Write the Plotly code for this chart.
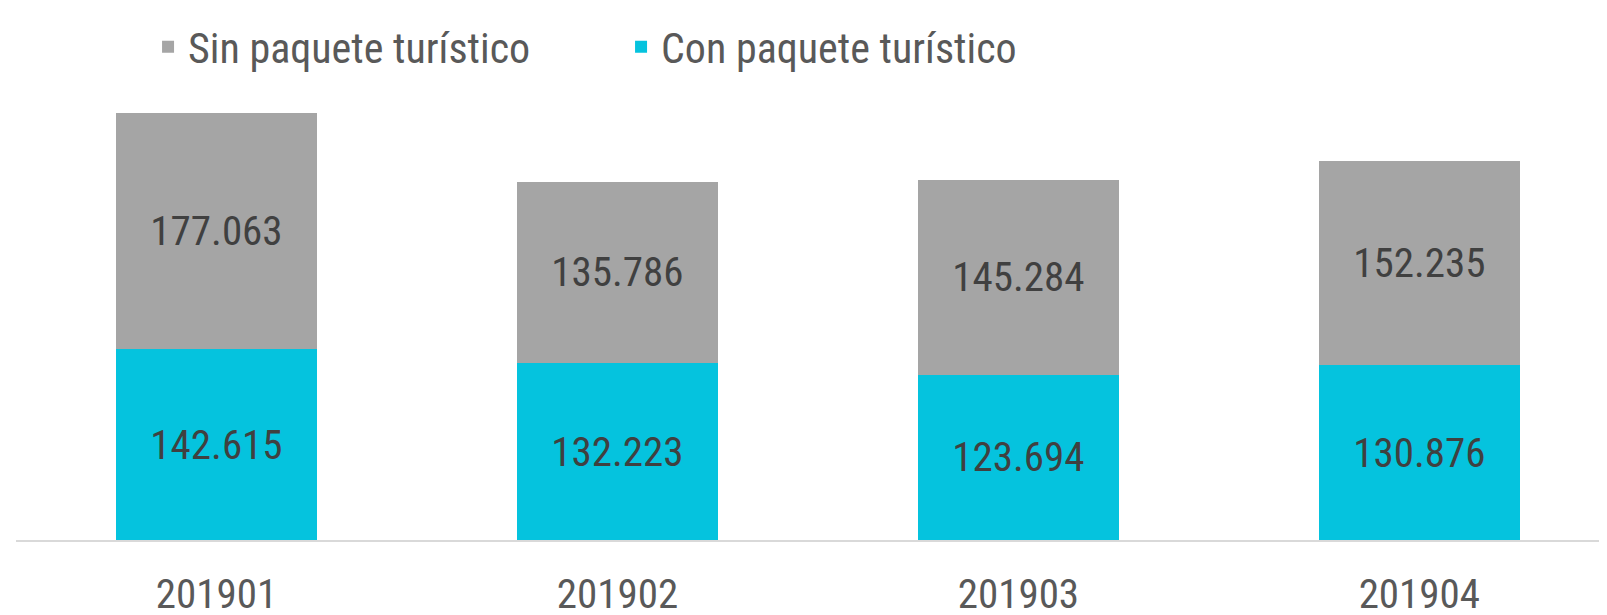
import plotly.graph_objects as go

categories = ["201901", "201902", "201903", "201904"]
con_paquete = [142615, 132223, 123694, 130876]
sin_paquete = [177063, 135786, 145284, 152235]

FONT = "Roboto Condensed, DejaVu Sans Condensed, sans-serif"

fig = go.Figure()
fig.add_trace(go.Bar(
    x=categories, y=con_paquete, name="Con paquete turístico",
    marker=dict(color="#05C3DE", line=dict(width=0)),
    texttemplate="%{y:,.0f}", textposition="inside", insidetextanchor="middle",
    textfont=dict(family=FONT, size=41, color="#404040"),
))
fig.add_trace(go.Bar(
    x=categories, y=sin_paquete, name="Sin paquete turístico",
    marker=dict(color="#A5A5A5", line=dict(width=0)),
    texttemplate="%{y:,.0f}", textposition="inside", insidetextanchor="middle",
    textfont=dict(family=FONT, size=41, color="#404040"),
))

# The page body adds an 8px offset, so the figure is 8px smaller on each axis
fig.update_layout(
    width=1599, height=607,
    barmode="stack", bargap=0.5,
    separators=",.",
    paper_bgcolor="white", plot_bgcolor="white",
    margin=dict(l=8, r=0, t=64, b=75, autoexpand=False),
    legend=dict(
        orientation="h", traceorder="reversed",
        x=0.083, xanchor="left", y=0.992, yanchor="top",
        yref="container",
        font=dict(family=FONT, size=42, color="#595959"),
        entrywidth=428, entrywidthmode="pixels",
        bgcolor="rgba(0,0,0,0)",
    ),
    xaxis=dict(
        range=[-0.5, 3.468],
        showline=True, linecolor="#D9D9D9", linewidth=2,
        ticks="outside", ticklen=17, tickcolor="rgba(0,0,0,0)",
        tickfont=dict(family=FONT, size=41, color="#595959"),
        showgrid=False, zeroline=False, automargin=False,
    ),
    yaxis=dict(
        range=[0, 350000], visible=False, showgrid=False, zeroline=False,
    ),
)

fig.write_html("out.html")
